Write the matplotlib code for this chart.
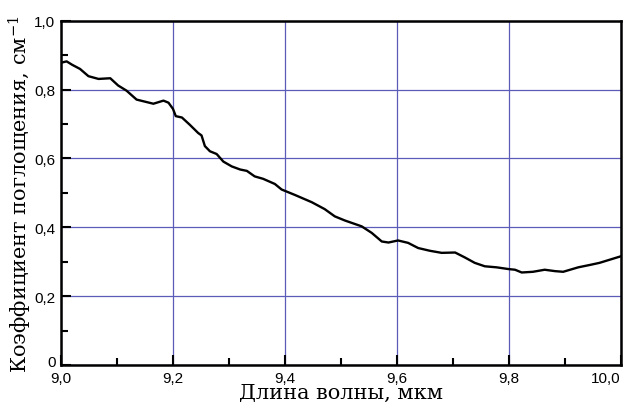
import numpy as np
import matplotlib
matplotlib.use('Agg')
import matplotlib.pyplot as plt
from matplotlib.ticker import MultipleLocator
from matplotlib.transforms import ScaledTranslation

# wavelength (um) and absorption coefficient (1/cm)
wavelength = [9.000, 9.010, 9.020, 9.034, 9.049, 9.067, 9.088, 9.102, 9.117,
              9.135, 9.150, 9.165, 9.183, 9.192, 9.200, 9.205, 9.216, 9.230,
              9.245, 9.251, 9.257, 9.266, 9.278, 9.290, 9.305, 9.320, 9.332,
              9.346, 9.361, 9.382, 9.394, 9.418, 9.448, 9.471, 9.489, 9.507,
              9.537, 9.555, 9.573, 9.585, 9.602, 9.620, 9.638, 9.659, 9.680,
              9.704, 9.721, 9.739, 9.757, 9.778, 9.799, 9.811, 9.823, 9.843,
              9.864, 9.882, 9.897, 9.924, 9.945, 9.962, 9.980, 10.000]
absorption = [0.878, 0.882, 0.872, 0.860, 0.839, 0.831, 0.833, 0.812, 0.797,
              0.771, 0.765, 0.759, 0.768, 0.762, 0.744, 0.723, 0.719, 0.698,
              0.674, 0.667, 0.636, 0.621, 0.613, 0.591, 0.577, 0.568, 0.564,
              0.548, 0.541, 0.526, 0.510, 0.494, 0.473, 0.453, 0.432, 0.420,
              0.403, 0.384, 0.359, 0.356, 0.362, 0.355, 0.340, 0.332, 0.326,
              0.327, 0.313, 0.297, 0.287, 0.284, 0.279, 0.277, 0.269, 0.271,
              0.277, 0.273, 0.271, 0.284, 0.291, 0.297, 0.306, 0.316]

x_ticks = [9.0, 9.2, 9.4, 9.6, 9.8, 10.0]
x_labels = ['9,0', '9,2', '9,4', '9,6', '9,8', '10,0']
y_ticks = [0, 0.2, 0.4, 0.6, 0.8, 1.0]
y_labels = ['0', '0,2', '0,4', '0,6', '0,8', '1,0']

plt.rcParams['font.family'] = ['Liberation Sans', 'DejaVu Sans']
plt.rcParams['mathtext.fontset'] = 'dejavuserif'

fig = plt.figure(figsize=(6.29, 4.10), dpi=100)
ax = fig.add_axes([0.097, 0.107, 0.890, 0.840])

ax.plot(wavelength, absorption, color='black', lw=1.7, zorder=3)

ax.set_xlim(9.0, 10.0)
ax.set_ylim(0, 1.0)
ax.set_xticks(x_ticks)
ax.set_xticklabels(x_labels)
ax.set_yticks(y_ticks)
ax.set_yticklabels(y_labels)
ax.xaxis.set_minor_locator(MultipleLocator(0.1))
ax.yaxis.set_minor_locator(MultipleLocator(0.1))

ax.grid(True, which='major', color='#5c5cb8', lw=0.9, zorder=1)
ax.tick_params(which='major', direction='in', length=7, width=1.5, pad=4,
               labelsize=11, top=False, right=False)
ax.tick_params(which='minor', direction='in', length=5, width=1.5,
               top=False, right=False)

# the last x label sits flush with the right edge of the frame
ax.xaxis.get_major_ticks()[-1].label1.set_horizontalalignment('right')
# lift the "0" a little so it clears "9,0"
zero = ax.yaxis.get_major_ticks()[0].label1
zero.set_transform(zero.get_transform() + ScaledTranslation(0, 3 / 72, fig.dpi_scale_trans))

for s in ax.spines.values():
    s.set_linewidth(1.8)
    s.set_zorder(4)

ax.set_xlabel('Длина волны, мкм', family='DejaVu Serif', fontsize=15, labelpad=-1)
ax.set_ylabel('Коэффициент поглощения, см$^{-1}$', family='DejaVu Serif',
              fontsize=15, labelpad=0)

fig.savefig('out.png', dpi=100)
